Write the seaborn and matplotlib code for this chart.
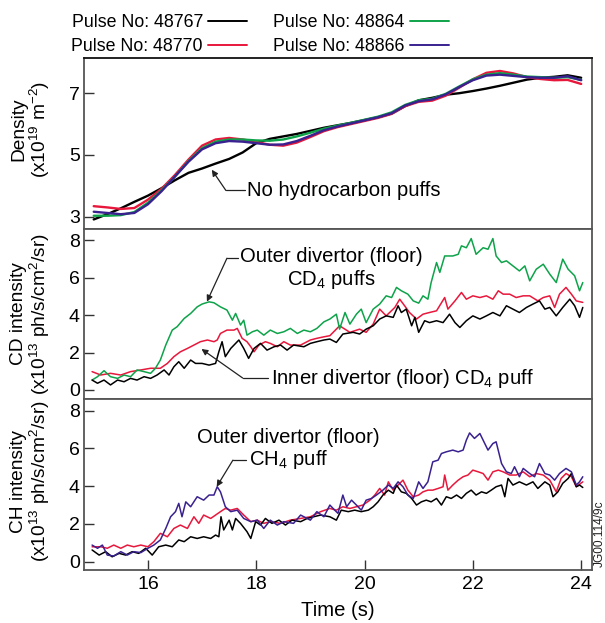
import numpy as np
import pandas as pd
import matplotlib
matplotlib.use("Agg")
import matplotlib.pyplot as plt
import seaborn as sns

# ---------------- data ----------------
pulses = ["48767", "48770", "48864", "48866"]
colors = {"48767": "#000000", "48770": "#e8173c", "48864": "#0ea34a", "48866": "#3a2190"}

dens_t = [15.0, 15.25, 15.5, 15.75, 16.0, 16.25, 16.5, 16.75, 17.0, 17.25, 17.5, 17.75,
          18.0, 18.25, 18.5, 18.75, 19.0, 19.25, 19.5, 19.75, 20.0, 20.25, 20.5, 20.75,
          21.0, 21.25, 21.5, 21.75, 22.0, 22.25, 22.5, 22.75, 23.0, 23.25, 23.5, 23.75, 24.0]
dens_48767 = [2.91, 3.08, 3.27, 3.48, 3.68, 3.92, 4.18, 4.42, 4.56, 4.72, 4.87, 5.08,
              5.38, 5.52, 5.60, 5.68, 5.78, 5.88, 5.96, 6.04, 6.13, 6.22, 6.34, 6.58,
              6.77, 6.85, 6.95, 7.00, 7.07, 7.15, 7.24, 7.34, 7.44, 7.50, 7.53, 7.58, 7.50]
dens_48770 = [3.34, 3.30, 3.25, 3.28, 3.55, 3.90, 4.35, 4.85, 5.30, 5.50, 5.55, 5.50,
              5.42, 5.33, 5.30, 5.40, 5.58, 5.77, 5.90, 6.00, 6.10, 6.20, 6.33, 6.58,
              6.72, 6.76, 6.92, 7.18, 7.45, 7.66, 7.72, 7.64, 7.52, 7.46, 7.42, 7.43, 7.30]
dens_48864 = [3.03, 3.03, 3.05, 3.15, 3.45, 3.85, 4.30, 4.80, 5.22, 5.43, 5.50, 5.50,
              5.47, 5.46, 5.50, 5.60, 5.72, 5.85, 5.95, 6.04, 6.14, 6.24, 6.38, 6.62,
              6.77, 6.82, 6.98, 7.22, 7.45, 7.60, 7.65, 7.60, 7.54, 7.52, 7.50, 7.52, 7.43]
dens_48866 = [3.16, 3.12, 3.08, 3.12, 3.40, 3.82, 4.30, 4.78, 5.18, 5.38, 5.45, 5.43,
              5.38, 5.33, 5.34, 5.45, 5.62, 5.80, 5.92, 6.02, 6.12, 6.22, 6.35, 6.60,
              6.74, 6.80, 6.96, 7.20, 7.42, 7.57, 7.60, 7.56, 7.52, 7.50, 7.50, 7.55, 7.42]

cd_t_48767 = [14.97, 15.07, 15.19, 15.31, 15.44, 15.56, 15.68, 15.80, 15.93, 16.05, 16.17, 16.30,
              16.39, 16.48, 16.57, 16.67, 16.79, 16.88, 17.00, 17.13, 17.25, 17.31, 17.37, 17.43,
              17.53, 17.62, 17.68, 17.77, 17.86, 17.96, 18.08, 18.20, 18.33, 18.45, 18.57, 18.69,
              18.88, 19.00, 19.12, 19.25, 19.36, 19.48, 19.60, 19.79, 19.91, 20.03, 20.16, 20.28,
              20.40, 20.53, 20.62, 20.68, 20.77, 20.87, 20.93, 21.00, 21.11, 21.20, 21.33, 21.45,
              21.57, 21.67, 21.76, 21.88, 22.00, 22.13, 22.25, 22.37, 22.50, 22.62, 22.74, 22.86,
              22.99, 23.11, 23.23, 23.33, 23.42, 23.54, 23.66, 23.79, 23.88, 23.97, 24.03]
cd_48767 = [0.53, 0.36, 0.53, 0.27, 0.53, 0.44, 0.62, 0.53, 0.71, 0.62, 0.80, 1.07,
            0.80, 1.24, 1.51, 1.16, 1.60, 1.42, 1.42, 1.33, 1.42, 2.04, 2.58, 1.78,
            2.22, 2.49, 2.67, 2.22, 1.69, 2.22, 2.49, 2.13, 2.31, 2.40, 2.13, 2.40,
            2.31, 2.49, 2.58, 2.67, 2.72, 2.54, 2.99, 3.08, 2.99, 3.25, 3.43, 3.79,
            3.96, 3.88, 4.50, 4.14, 4.32, 3.43, 3.88, 3.08, 3.70, 3.60, 3.70, 3.60,
            4.05, 3.60, 3.34, 3.70, 3.96, 3.79, 3.96, 4.14, 3.96, 4.50, 4.32, 4.14,
            4.41, 4.59, 4.76, 4.32, 4.41, 3.96, 4.41, 4.85, 4.50, 3.88, 4.41]

cd_t_48770 = [14.97, 15.13, 15.31, 15.50, 15.68, 15.87, 16.05, 16.23, 16.36, 16.48, 16.60, 16.73,
              16.85, 16.97, 17.10, 17.22, 17.28, 17.34, 17.46, 17.59, 17.65, 17.74, 17.83, 17.90,
              17.96, 18.05, 18.17, 18.26, 18.39, 18.51, 18.63, 18.82, 19.00, 19.12, 19.25, 19.36,
              19.54, 19.73, 19.91, 20.03, 20.16, 20.28, 20.40, 20.56, 20.65, 20.74, 20.83, 20.96,
              21.08, 21.20, 21.33, 21.48, 21.54, 21.67, 21.79, 21.88, 22.00, 22.13, 22.25, 22.37,
              22.47, 22.56, 22.68, 22.80, 22.93, 23.05, 23.20, 23.30, 23.42, 23.51, 23.60, 23.72,
              23.82, 23.91, 24.03]
cd_48770 = [0.98, 0.80, 0.89, 0.80, 0.98, 1.07, 1.16, 1.16, 1.42, 1.78, 2.04, 2.22,
            2.40, 2.58, 2.67, 2.58, 2.67, 3.02, 3.20, 3.20, 3.29, 2.76, 2.58, 2.31,
            2.04, 2.40, 2.58, 2.49, 2.31, 2.58, 2.40, 2.40, 2.67, 2.76, 2.84, 2.90,
            3.43, 3.08, 3.25, 3.08, 3.52, 4.32, 3.96, 4.41, 4.85, 4.50, 4.14, 3.79,
            4.05, 4.14, 4.23, 4.94, 4.32, 4.76, 5.21, 4.85, 5.03, 4.94, 5.03, 4.85,
            5.30, 5.12, 5.12, 4.94, 5.03, 5.03, 4.76, 4.94, 5.03, 4.41, 5.12, 5.48,
            5.12, 4.76, 4.68]

cd_t_48864 = [14.97, 15.07, 15.19, 15.31, 15.44, 15.56, 15.68, 15.80, 15.93, 16.05, 16.14, 16.23,
              16.33, 16.45, 16.54, 16.67, 16.79, 16.91, 17.00, 17.13, 17.22, 17.34, 17.46, 17.56,
              17.62, 17.71, 17.77, 17.83, 17.93, 18.02, 18.14, 18.26, 18.39, 18.51, 18.63, 18.76,
              18.88, 19.00, 19.12, 19.25, 19.36, 19.48, 19.54, 19.64, 19.73, 19.85, 19.94, 20.03,
              20.16, 20.28, 20.40, 20.50, 20.59, 20.68, 20.80, 20.90, 21.00, 21.08, 21.17, 21.23,
              21.33, 21.39, 21.48, 21.63, 21.73, 21.79, 21.88, 21.97, 22.06, 22.19, 22.28, 22.37,
              22.43, 22.53, 22.62, 22.74, 22.86, 22.96, 23.05, 23.17, 23.30, 23.42, 23.54, 23.66,
              23.76, 23.88, 23.97, 24.03]
cd_48864 = [0.53, 0.71, 1.03, 0.71, 0.62, 0.80, 0.71, 1.07, 0.98, 0.89, 1.16, 1.60,
            2.40, 3.20, 3.38, 3.82, 4.09, 4.44, 4.59, 4.71, 4.66, 4.44, 4.27, 3.73,
            4.09, 3.47, 3.73, 2.93, 3.11, 3.20, 2.93, 3.20, 3.02, 3.11, 3.29, 3.02,
            3.20, 3.11, 3.29, 3.64, 3.79, 4.05, 3.25, 4.14, 3.52, 4.05, 4.32, 3.60,
            4.32, 4.59, 5.03, 4.94, 5.48, 5.30, 5.12, 4.76, 4.64, 5.03, 4.85, 5.74,
            6.81, 6.28, 7.16, 7.16, 7.25, 7.70, 7.60, 8.09, 7.25, 7.60, 7.52, 8.09,
            7.16, 6.81, 6.90, 6.63, 6.36, 6.63, 5.83, 6.45, 6.72, 6.19, 5.74, 6.99,
            6.45, 6.10, 5.30, 5.74]

ch_t_48767 = [14.97, 15.10, 15.22, 15.34, 15.47, 15.59, 15.71, 15.83, 15.96, 16.08, 16.20, 16.33,
              16.45, 16.57, 16.67, 16.79, 16.91, 17.03, 17.16, 17.25, 17.31, 17.35, 17.40, 17.50,
              17.56, 17.62, 17.71, 17.83, 17.90, 17.99, 18.08, 18.17, 18.29, 18.42, 18.54, 18.66,
              18.82, 18.94, 19.06, 19.19, 19.36, 19.48, 19.57, 19.70, 19.82, 19.94, 20.07, 20.16,
              20.25, 20.34, 20.44, 20.53, 20.59, 20.68, 20.77, 20.87, 20.96, 21.05, 21.14, 21.23,
              21.33, 21.42, 21.51, 21.60, 21.70, 21.79, 21.88, 21.97, 22.06, 22.16, 22.25, 22.34,
              22.43, 22.53, 22.59, 22.65, 22.74, 22.86, 22.99, 23.11, 23.20, 23.33, 23.42, 23.48,
              23.57, 23.66, 23.76, 23.82, 23.91, 23.97, 24.03]
ch_48767 = [0.62, 0.35, 0.53, 0.26, 0.44, 0.35, 0.53, 0.44, 0.71, 0.35, 0.79, 0.88,
            0.79, 1.15, 1.06, 1.32, 1.23, 1.32, 1.23, 1.41, 1.32, 2.38, 1.68, 2.20,
            1.68, 2.29, 2.03, 1.59, 1.23, 2.12, 1.94, 2.29, 2.03, 2.20, 1.94, 2.20,
            2.12, 2.29, 2.38, 2.47, 2.38, 2.20, 2.73, 2.65, 2.73, 2.65, 2.73, 2.91,
            3.17, 3.53, 3.79, 3.62, 4.06, 3.70, 3.62, 3.35, 3.00, 3.17, 3.26, 3.17,
            3.35, 3.00, 3.44, 3.35, 3.53, 3.35, 3.62, 3.79, 3.53, 3.70, 3.62, 3.79,
            3.97, 4.06, 3.44, 4.41, 4.06, 4.23, 4.06, 4.23, 3.88, 4.23, 4.06, 3.44,
            3.70, 4.15, 4.41, 4.67, 3.97, 4.06, 3.93]

ch_t_48770 = [14.97, 15.13, 15.25, 15.37, 15.50, 15.62, 15.74, 15.87, 16.00, 16.11, 16.23, 16.36,
              16.48, 16.60, 16.73, 16.85, 16.94, 17.03, 17.16, 17.25, 17.34, 17.43, 17.53, 17.65,
              17.77, 17.90, 18.02, 18.14, 18.26, 18.45, 18.63, 18.82, 19.00, 19.19, 19.36, 19.48,
              19.60, 19.73, 19.85, 19.97, 20.10, 20.19, 20.28, 20.37, 20.44, 20.53, 20.62, 20.71,
              20.80, 20.90, 21.00, 21.08, 21.17, 21.26, 21.36, 21.45, 21.48, 21.54, 21.63, 21.73,
              21.82, 21.91, 22.00, 22.10, 22.19, 22.28, 22.37, 22.47, 22.56, 22.68, 22.80, 22.93,
              23.05, 23.17, 23.30, 23.42, 23.54, 23.63, 23.72, 23.82, 23.91, 24.03]
ch_48770 = [0.79, 0.79, 0.71, 0.88, 0.71, 0.88, 0.79, 0.88, 0.79, 1.06, 1.50, 1.32,
            1.76, 1.94, 1.76, 2.38, 2.03, 2.47, 2.29, 2.47, 2.65, 2.82, 2.73, 2.82,
            2.47, 2.12, 2.20, 2.03, 2.12, 2.03, 2.20, 2.29, 2.38, 2.65, 2.82, 2.73,
            2.91, 2.82, 2.91, 3.00, 3.26, 3.53, 3.88, 3.53, 4.23, 3.79, 4.06, 4.32,
            3.79, 3.44, 3.53, 3.70, 3.79, 3.79, 3.88, 3.97, 4.59, 3.79, 4.06, 4.32,
            4.50, 4.59, 4.85, 4.76, 4.67, 4.32, 4.76, 4.85, 4.76, 4.59, 4.59, 4.76,
            4.50, 4.67, 4.59, 4.32, 3.70, 4.41, 4.67, 4.50, 3.97, 4.23]

ch_t_48866 = [14.97, 15.07, 15.16, 15.25, 15.37, 15.50, 15.62, 15.74, 15.87, 16.00, 16.11, 16.23,
              16.33, 16.42, 16.51, 16.57, 16.63, 16.70, 16.79, 16.91, 17.03, 17.13, 17.22, 17.28,
              17.34, 17.43, 17.53, 17.65, 17.77, 17.90, 18.02, 18.14, 18.26, 18.39, 18.51, 18.69,
              18.82, 19.00, 19.12, 19.25, 19.36, 19.45, 19.51, 19.60, 19.67, 19.76, 19.85, 19.94,
              20.03, 20.13, 20.22, 20.34, 20.44, 20.53, 20.62, 20.71, 20.80, 20.90, 21.00, 21.08,
              21.17, 21.26, 21.36, 21.42, 21.51, 21.63, 21.73, 21.82, 21.88, 21.94, 22.03, 22.13,
              22.22, 22.28, 22.37, 22.43, 22.53, 22.62, 22.71, 22.77, 22.86, 22.93, 23.05, 23.14,
              23.23, 23.33, 23.42, 23.51, 23.60, 23.72, 23.82, 23.91, 23.97, 24.03]
ch_48866 = [0.88, 0.71, 0.88, 0.35, 0.30, 0.53, 0.35, 0.53, 0.48, 0.71, 0.88, 1.15,
            1.76, 2.38, 2.65, 3.09, 2.38, 3.17, 2.91, 3.44, 3.26, 3.53, 3.53, 3.97,
            3.70, 2.91, 2.65, 2.73, 2.29, 2.12, 2.20, 1.76, 2.20, 1.94, 2.12, 2.03,
            2.47, 2.20, 2.65, 2.38, 3.00, 2.73, 2.56, 3.53, 2.91, 3.26, 3.00, 2.73,
            3.26, 3.35, 3.53, 3.79, 4.06, 3.88, 4.23, 3.97, 3.53, 3.35, 4.23, 3.88,
            4.23, 5.29, 5.38, 5.73, 5.82, 5.91, 5.82, 5.91, 6.44, 6.82, 6.53, 6.79,
            6.26, 5.91, 6.26, 6.35, 5.20, 4.76, 4.67, 5.03, 4.50, 4.94, 4.67, 4.50,
            5.20, 4.67, 4.59, 4.32, 4.67, 4.94, 4.76, 4.06, 4.23, 4.50]

x_ticks = [16, 18, 20, 22, 24]
dens_ticks = [3, 5, 7]
int_ticks = [0, 2, 4, 6, 8]


def long_df(pairs):
    frames = []
    for pulse, t, v in pairs:
        frames.append(pd.DataFrame({"Time": t, "Value": v, "Pulse": pulse}))
    return pd.concat(frames, ignore_index=True)


df_dens = long_df([("48767", dens_t, dens_48767), ("48770", dens_t, dens_48770),
                   ("48864", dens_t, dens_48864), ("48866", dens_t, dens_48866)])
df_cd = long_df([("48770", cd_t_48770, cd_48770), ("48864", cd_t_48864, cd_48864),
                 ("48767", cd_t_48767, cd_48767)])
df_ch = long_df([("48770", ch_t_48770, ch_48770), ("48767", ch_t_48767, ch_48767),
                 ("48866", ch_t_48866, ch_48866)])

# ---------------- style ----------------
sns.set_theme(style="white")
plt.rcParams["font.family"] = ["Liberation Sans", "DejaVu Sans"]
plt.rcParams["mathtext.fontset"] = "custom"
plt.rcParams["mathtext.rm"] = "Liberation Sans"
plt.rcParams["mathtext.it"] = "Liberation Sans:italic"
plt.rcParams["mathtext.bf"] = "Liberation Sans:bold"
for key in ("text.color", "axes.labelcolor", "xtick.labelcolor", "ytick.labelcolor"):
    plt.rcParams[key] = "#000000"

FS_TICK = 14
FS_LAB = 13.8
FS_ANN = 14.6
fig = plt.figure(figsize=(6.05, 6.23), dpi=100)
L, W = 0.1388, 0.8397
ax1 = fig.add_axes([L, 0.6324, W, 0.2745])
ax2 = fig.add_axes([L, 0.3596, W, 0.2728])
ax3 = fig.add_axes([L, 0.0851, W, 0.2745])

sns.lineplot(data=df_dens, x="Time", y="Value", hue="Pulse", hue_order=pulses,
             palette=colors, estimator=None, linewidth=1.7, ax=ax1)
sns.lineplot(data=df_cd, x="Time", y="Value", hue="Pulse",
             hue_order=["48770", "48864", "48767"], palette=colors,
             estimator=None, linewidth=1.1, legend=False, ax=ax2)
sns.lineplot(data=df_ch, x="Time", y="Value", hue="Pulse",
             hue_order=["48770", "48767", "48866"], palette=colors,
             estimator=None, linewidth=1.1, legend=False, ax=ax3)

handles, labels = ax1.get_legend_handles_labels()
ax1.get_legend().remove()
lab = ["Pulse No: " + l for l in labels]
fig.legend(handles, lab, ncol=2, loc="upper left", bbox_to_anchor=(0.118, 0.977),
           frameon=False, markerfirst=False, handlelength=2.2, handletextpad=0.3,
           columnspacing=1.45, labelspacing=0.38, fontsize=12.8, borderpad=0,
           borderaxespad=0)
for h in fig.legends[0].get_lines():
    h.set_linewidth(1.4)

for ax in (ax1, ax2, ax3):
    ax.set_xlim(14.82, 24.2)
    for s in ax.spines.values():
        s.set_visible(True)
        s.set_color("#555555")
        s.set_linewidth(1.3)
    ax.tick_params(axis="y", direction="in", length=7, width=1, color="#333333",
                   labelsize=FS_TICK, pad=3, left=True)
    ax.set_xlabel("")
ax1.spines["top"].set_color("#111111")

ax1.set_ylim(2.6, 8.14)
ax1.set_yticks(dens_ticks)
ax2.set_ylim(-0.48, 8.6)
ax2.set_yticks(int_ticks)
ax3.set_ylim(-0.44, 8.62)
ax3.set_yticks(int_ticks)

for ax in (ax1, ax2):
    ax.set_xticks(x_ticks)
    ax.tick_params(axis="x", bottom=False, labelbottom=False)
ax3.set_xticks(x_ticks)
ax3.tick_params(axis="x", direction="in", length=7, width=1, color="#333333",
                labelsize=FS_TICK, bottom=True, pad=4)
ax3.set_xlabel("Time (s)", fontsize=14.6, labelpad=6)

ax1.set_ylabel("Density\n(x10$^{19}$ m$^{-2}$)", fontsize=FS_LAB, linespacing=1.0)
ax2.set_ylabel("CD intensity\n(x10$^{13}$ ph/s/cm$^{2}$/sr)", fontsize=FS_LAB, linespacing=1.05)
ax3.set_ylabel("CH intensity\n(x10$^{13}$ ph/s/cm$^{2}$/sr)", fontsize=FS_LAB, linespacing=1.05)
ax1.yaxis.set_label_coords(-0.063, 0.585)
ax2.yaxis.set_label_coords(-0.063, 0.5)
ax3.yaxis.set_label_coords(-0.063, 0.52)

# ---------------- annotations ----------------
arrow_kw = dict(arrowstyle="-|>", color="#222222", lw=0.9, mutation_scale=9,
                shrinkA=0, shrinkB=0)


def leader(ax, text_xy, elbow, head):
    ax.plot([elbow[0], text_xy[0]], [elbow[1], elbow[1]], color="#222222", lw=0.9)
    ax.annotate("", xy=head, xytext=elbow, arrowprops=arrow_kw)


ax1.text(17.83, 3.85, "No hydrocarbon puffs", fontsize=FS_ANN, ha="left", va="center")
leader(ax1, (17.79, 3.85), (17.44, 3.85), (17.18, 4.52))

ax2.text(19.38, 6.45, "Outer divertor (floor)\nCD$_4$ puffs", fontsize=FS_ANN,
         ha="center", va="center", linespacing=1.1)
leader(ax2, (17.66, 7.04), (17.46, 7.04), (17.09, 4.72))

ax2.text(18.27, 0.64, "Inner divertor (floor) CD$_4$ puff", fontsize=FS_ANN,
         ha="left", va="center")
leader(ax2, (18.22, 0.64), (17.75, 0.64), (16.99, 2.19))

ax3.text(18.60, 5.94, "Outer divertor (floor)\nCH$_4$ puff", fontsize=FS_ANN,
         ha="center", va="center", linespacing=1.1)
leader(ax3, (17.82, 5.38), (17.57, 5.38), (17.27, 3.97))

fig.text(0.992, 0.143, "JG00.114/9c", rotation=90, fontsize=8.6, ha="center",
         va="center", color="#222222")

fig.savefig("out.png", dpi=100)
